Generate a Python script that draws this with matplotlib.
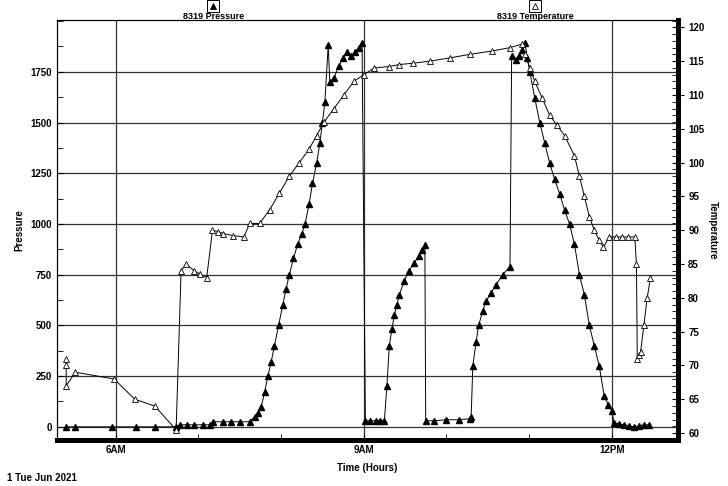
import matplotlib.pyplot as plt
from matplotlib.ticker import MultipleLocator
from matplotlib.lines import Line2D

plt.rcParams["font.family"] = ["Liberation Sans", "DejaVu Sans"]
plt.rcParams["font.weight"] = "bold"
plt.rcParams["font.size"] = 7

# pressure readings (hours of day, psi)
p_time = [5.40, 5.51, 5.96, 6.24, 6.47, 6.73,
          6.78, 6.86, 6.95, 7.05, 7.14, 7.18, 7.30, 7.40, 7.50, 7.62,
          7.68, 7.72, 7.76, 7.80, 7.84, 7.88, 7.92, 7.97, 8.02, 8.06, 8.10, 8.15, 8.20, 8.25,
          8.29, 8.34, 8.38, 8.43, 8.47, 8.50, 8.53, 8.57, 8.59, 8.64, 8.70, 8.75, 8.80, 8.85,
          8.90, 8.94, 8.98,
          9.02, 9.08, 9.15, 9.20, 9.25, 9.28, 9.31, 9.34, 9.37, 9.40, 9.43, 9.49, 9.55,
          9.61, 9.67, 9.71, 9.74, 9.75, 9.85, 10.0, 10.15, 10.28,
          10.30, 10.32, 10.36, 10.39, 10.44, 10.48, 10.54, 10.60, 10.68, 10.77,
          10.79, 10.84, 10.88, 10.92, 10.95, 10.98, 11.01, 11.07, 11.13, 11.19, 11.25, 11.31,
          11.37, 11.43, 11.49, 11.55, 11.61, 11.67, 11.73, 11.79, 11.85, 11.91, 11.96, 12.0,
          12.03, 12.09, 12.15, 12.21, 12.27, 12.33, 12.39, 12.45]
pressure = [0, 0, 0, 0, 0, 0,
            10, 10, 10, 10, 10, 25, 25, 25, 25, 25,
            50, 70, 100, 170, 250, 320, 400, 500, 600, 680, 750, 830, 900, 950,
            1000, 1100, 1200, 1300, 1400, 1500, 1600, 1880, 1700, 1720, 1780, 1820, 1850, 1830,
            1850, 1870, 1890,
            30, 30, 30, 30, 30, 200, 400, 480, 550, 600, 650, 720, 770,
            810, 840, 870, 895, 30, 30, 35, 35, 40,
            50, 300, 420, 500, 570, 620, 660, 700, 750, 790,
            1830, 1810, 1830, 1860, 1890, 1820, 1750, 1620, 1500, 1400, 1300, 1220,
            1150, 1070, 1000, 900, 750, 650, 500, 400, 300, 150, 110, 80,
            20, 15, 10, 5, 0, 5, 10, 10]

# temperature readings (hours of day, deg)
t_time = [5.40, 5.40, 5.40, 5.51, 5.98, 6.23, 6.47, 6.73,
          6.79, 6.85, 6.95, 7.02, 7.10, 7.17, 7.24, 7.30, 7.42, 7.55, 7.62, 7.74, 7.86,
          7.98, 8.10, 8.22, 8.34, 8.43, 8.52, 8.64, 8.76, 8.88, 9.00, 9.13, 9.30, 9.43,
          9.60, 9.80, 10.05, 10.28, 10.55, 10.77, 10.91, 10.95, 11.01, 11.07, 11.16, 11.25,
          11.34, 11.43, 11.55, 11.61, 11.67, 11.73, 11.79, 11.85, 11.90, 11.97, 12.05,
          12.12, 12.20, 12.28, 12.30, 12.31, 12.33, 12.35, 12.39, 12.43, 12.47]
temperature = [71, 70, 67, 69, 68, 65, 64, 60.5,
               84, 85, 84, 83.5, 83, 90, 89.8, 89.5, 89.2, 89, 91, 91, 93,
               95.5, 98, 100, 102, 104, 106, 108, 110, 112, 113, 114, 114.2, 114.5,
               114.7, 115, 115.5, 116, 116.5, 117, 117.5, 116, 114, 112, 109.5, 107,
               105.5, 104, 101, 98, 95, 92, 90, 88.5, 87.5, 89, 89,
               89, 89, 89, 85, 71, 71.5, 72, 76, 80, 83]

fig = plt.figure(figsize=(7.28, 4.86), dpi=100)
ax = fig.add_axes([0.078, 0.095, 0.853, 0.864])
ax2 = ax.twinx()

ax.plot(p_time, pressure, color="black", lw=0.7, marker="^", ms=5,
        mfc="black", mec="black", zorder=3)
ax2.plot(t_time, temperature, color="black", lw=0.7, marker="^", ms=5,
         mfc="white", mec="black", mew=0.6)

ax.set_xlim(5.286, 12.80)
ax.set_ylim(-64, 2006)
ax2.set_ylim(59, 121.1)

ax.set_xticks([6, 9, 12])
ax.set_xticklabels(["6AM", "9AM", "12PM"])
ax.xaxis.set_minor_locator(MultipleLocator(1))
ax.set_yticks([0, 250, 500, 750, 1000, 1250, 1500, 1750])
ax.yaxis.set_minor_locator(MultipleLocator(125))
ax2.yaxis.set_major_locator(MultipleLocator(5))
ax2.yaxis.set_minor_locator(MultipleLocator(1))
ax.tick_params(which="both", direction="in", length=4, labelsize=7)
ax2.tick_params(which="major", direction="inout", length=8, labelsize=7)
ax2.tick_params(which="minor", direction="in", length=4)
ax.grid(True, which="major", color="#333333", lw=0.9)

for a in (ax, ax2):
    a.spines["bottom"].set_linewidth(3.5)
    a.spines["right"].set_linewidth(3.5)
    a.spines["left"].set_linewidth(0.8)
    a.spines["top"].set_linewidth(0.8)

ax.set_ylabel("Pressure", fontsize=7, fontweight="bold")
ax2.set_ylabel("Temperature", fontsize=7, fontweight="bold", rotation=270, labelpad=10)
ax.set_xlabel("Time (Hours)", fontsize=7, fontweight="bold", labelpad=6)
fig.text(0.01, 0.01, "1 Tue Jun 2021", fontsize=7, fontweight="bold")

# top legend boxes
for xf, label, face in [(0.293, "8319 Pressure", "black"), (0.735, "8319 Temperature", "white")]:
    fig.add_artist(Line2D([xf], [0.988], marker="s", ms=9, mfc="white", mec="black",
                          mew=0.7, transform=fig.transFigure))
    fig.add_artist(Line2D([xf], [0.988], marker="^", ms=4, mfc=face, mec="black",
                          mew=0.6, transform=fig.transFigure))
    fig.text(xf, 0.966, label, ha="center", va="center", fontsize=6.5, fontweight="bold")

fig.savefig("out.png", dpi=100)
